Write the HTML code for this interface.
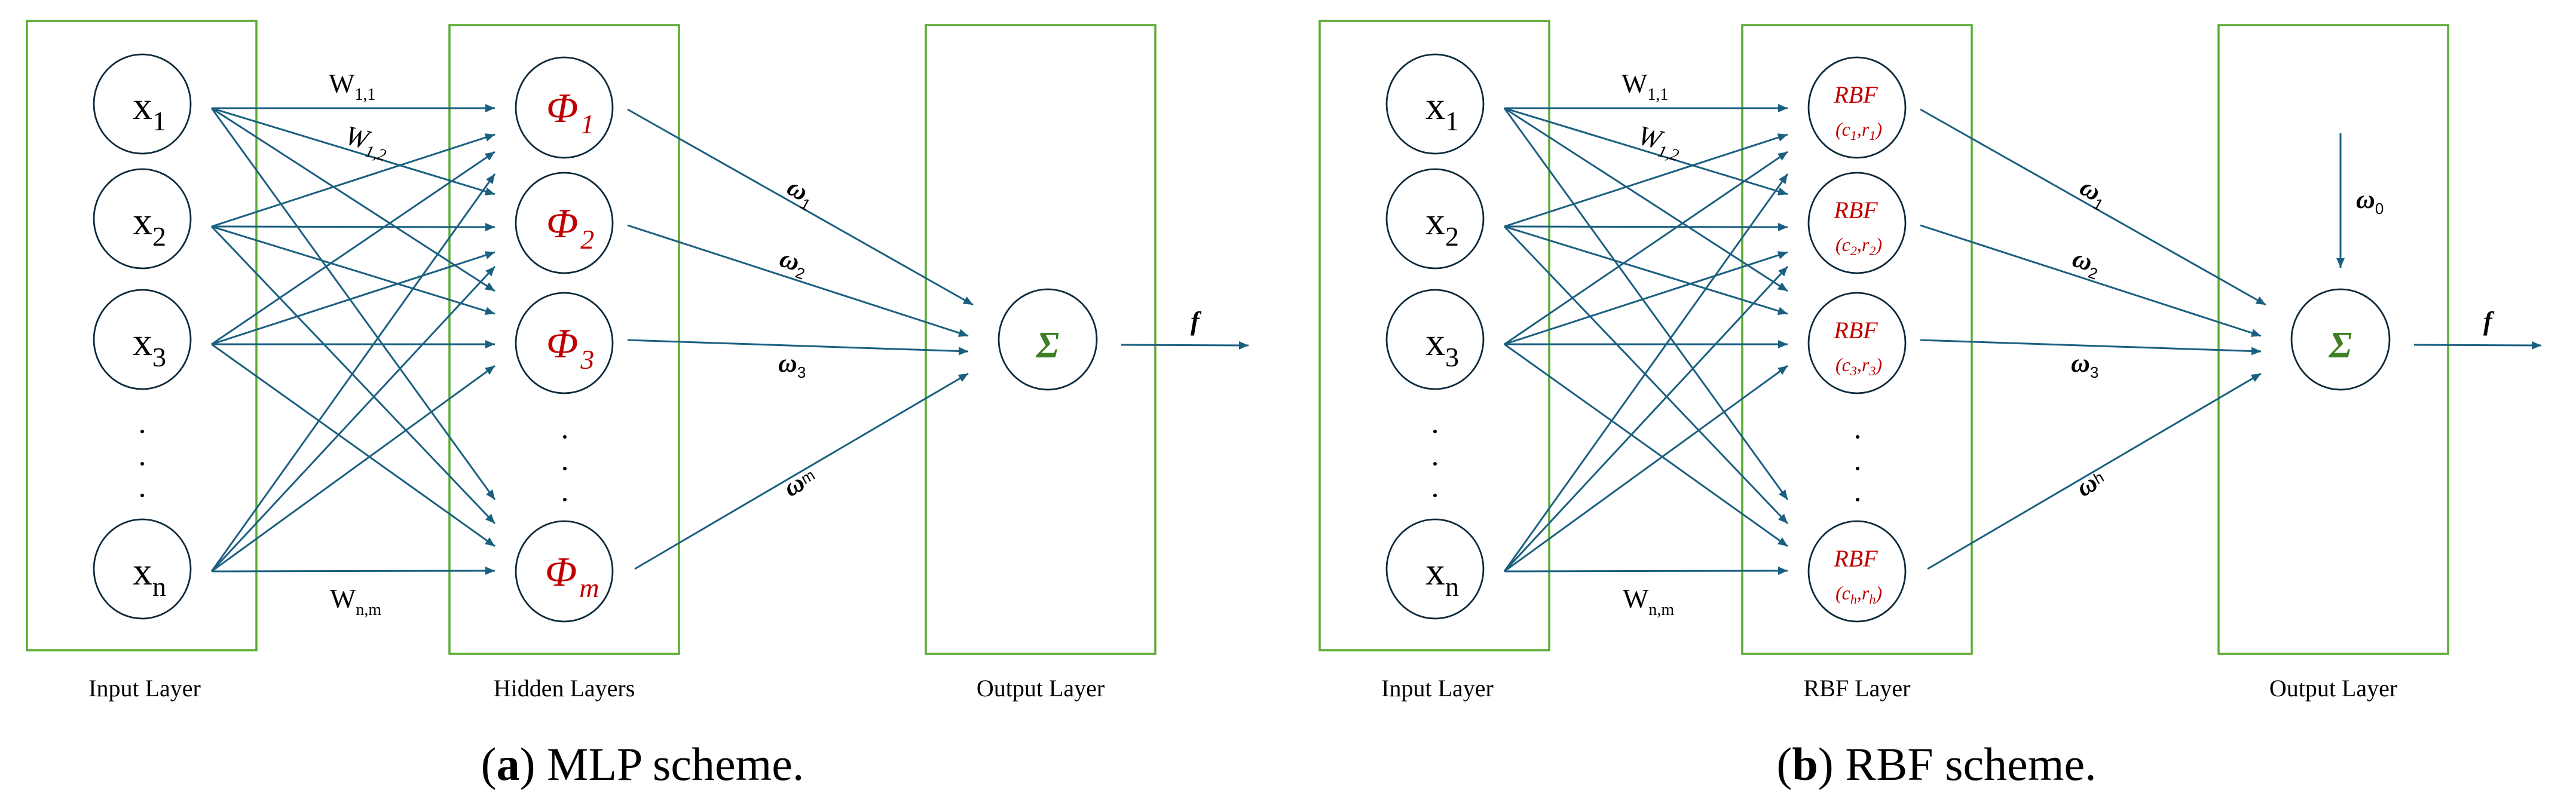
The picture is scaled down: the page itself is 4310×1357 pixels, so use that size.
<!DOCTYPE html>
<html><head><meta charset="utf-8"><style>
html,body{margin:0;padding:0;background:#fff;}
svg{display:block;}
text{font-family:"Liberation Serif",serif;}
</style></head><body>
<svg width="4310" height="1357" viewBox="0 0 4310 1357" xmlns="http://www.w3.org/2000/svg">
<defs>
<marker id="ah" markerUnits="userSpaceOnUse" markerWidth="20" markerHeight="16" refX="16" refY="7" orient="auto">
<path d="M0,0 L16,7 L0,14 z" fill="#1a5f80"/>
</marker>
<g id="net">
<g fill="none" stroke="#5aab32" stroke-width="3.5">
<rect x="45" y="35" width="384" height="1053"/>
<rect x="752" y="42" width="384" height="1052"/>
<rect x="1549" y="42" width="384" height="1052"/>
</g>
<g fill="none" stroke="#0e2a3b" stroke-width="2.8">
<ellipse cx="238" cy="174" rx="81" ry="83"/>
<ellipse cx="238" cy="366" rx="81" ry="83"/>
<ellipse cx="238" cy="568" rx="81" ry="83"/>
<ellipse cx="238" cy="952" rx="81" ry="83"/>
<ellipse cx="944" cy="180" rx="81" ry="84"/>
<ellipse cx="944" cy="373" rx="81" ry="84"/>
<ellipse cx="944" cy="574" rx="81" ry="84"/>
<ellipse cx="944" cy="956" rx="81" ry="84"/>
<ellipse cx="1753" cy="568" rx="82" ry="84"/>
</g>
<g fill="#000">
<circle cx="238" cy="722" r="3"/><circle cx="238" cy="776" r="3"/><circle cx="238" cy="829" r="3"/>
<circle cx="945" cy="731" r="3"/><circle cx="945" cy="784" r="3"/><circle cx="945" cy="836" r="3"/>
</g>
<g stroke="#1a5f80" stroke-width="3" fill="none" marker-end="url(#ah)">
<line x1="354" y1="181" x2="828" y2="181"/>
<line x1="354" y1="379" x2="828" y2="225"/>
<line x1="354" y1="576" x2="828" y2="254"/>
<line x1="354" y1="956" x2="828" y2="291"/>
<line x1="354" y1="181" x2="828" y2="325"/>
<line x1="354" y1="379" x2="828" y2="380"/>
<line x1="354" y1="576" x2="828" y2="422"/>
<line x1="354" y1="956" x2="828" y2="446"/>
<line x1="354" y1="181" x2="828" y2="487"/>
<line x1="354" y1="379" x2="828" y2="525"/>
<line x1="354" y1="576" x2="828" y2="576"/>
<line x1="354" y1="956" x2="828" y2="612"/>
<line x1="354" y1="181" x2="828" y2="836"/>
<line x1="354" y1="379" x2="828" y2="876"/>
<line x1="354" y1="576" x2="828" y2="914"/>
<line x1="354" y1="956" x2="828" y2="955"/>
<line x1="1050" y1="183" x2="1628" y2="510"/>
<line x1="1050" y1="377" x2="1620" y2="562"/>
<line x1="1050" y1="569" x2="1620" y2="588"/>
<line x1="1062" y1="952" x2="1620" y2="625"/>
<line x1="1876" y1="577" x2="2089" y2="578"/>
</g>
</g>
</defs>

<use href="#net"/>
<use href="#net" x="2163"/>
<line x1="3916" y1="223" x2="3916" y2="448" stroke="#1a5f80" stroke-width="3" marker-end="url(#ah)"/>

<!-- MLP labels -->
<g font-size="66">
<text x="222" y="199">x<tspan font-size="46" dy="19">1</tspan></text>
<text x="222" y="392">x<tspan font-size="46" dy="19">2</tspan></text>
<text x="222" y="594">x<tspan font-size="46" dy="19">3</tspan></text>
<text x="222" y="978">x<tspan font-size="46" dy="19">n</tspan></text>
<text x="2385" y="199">x<tspan font-size="46" dy="19">1</tspan></text>
<text x="2385" y="392">x<tspan font-size="46" dy="19">2</tspan></text>
<text x="2385" y="594">x<tspan font-size="46" dy="19">3</tspan></text>
<text x="2385" y="978">x<tspan font-size="46" dy="19">n</tspan></text>
</g>
<g fill="#c00000" font-style="italic" font-size="70">
<text x="914" y="204">Φ<tspan font-size="46" dx="4" dy="19">1</tspan></text>
<text x="914" y="397">Φ<tspan font-size="46" dx="4" dy="19">2</tspan></text>
<text x="914" y="598">Φ<tspan font-size="46" dx="4" dy="19">3</tspan></text>
<text x="912" y="980">Φ<tspan font-size="46" dx="4" dy="19">m</tspan></text>
</g>
<g fill="#c00000" font-style="italic" text-anchor="middle">
<text x="3105" y="172" font-size="40">RBF</text>
<text x="3110" y="227" font-size="32">(c<tspan font-size="22" dy="7">1</tspan><tspan dy="-7">,r</tspan><tspan font-size="22" dy="7">1</tspan><tspan dy="-7">)</tspan></text>
<text x="3105" y="365" font-size="40">RBF</text>
<text x="3110" y="420" font-size="32">(c<tspan font-size="22" dy="7">2</tspan><tspan dy="-7">,r</tspan><tspan font-size="22" dy="7">2</tspan><tspan dy="-7">)</tspan></text>
<text x="3105" y="566" font-size="40">RBF</text>
<text x="3110" y="621" font-size="32">(c<tspan font-size="22" dy="7">3</tspan><tspan dy="-7">,r</tspan><tspan font-size="22" dy="7">3</tspan><tspan dy="-7">)</tspan></text>
<text x="3105" y="948" font-size="40">RBF</text>
<text x="3110" y="1003" font-size="32">(c<tspan font-size="22" dy="7">h</tspan><tspan dy="-7">,r</tspan><tspan font-size="22" dy="7">h</tspan><tspan dy="-7">)</tspan></text>
</g>
<g fill="#3d7f24" font-weight="bold" font-style="italic" font-size="62" text-anchor="middle">
<text x="1753" y="598">Σ</text>
<text x="3916" y="598">Σ</text>
</g>
<g font-weight="bold" font-style="italic" font-size="44">
<text x="1992" y="552">f</text>
<text x="4155" y="552">f</text>
</g>

<!-- weight labels -->
<g font-size="46">
<text x="550" y="155">W<tspan font-size="28" dy="12">1,1</tspan></text>
<text x="552" y="1017">W<tspan font-size="28" dy="12">n,m</tspan></text>
<text x="2713" y="155">W<tspan font-size="28" dy="12">1,1</tspan></text>
<text x="2715" y="1017">W<tspan font-size="28" dy="12">n,m</tspan></text>
<text x="575" y="240" font-style="italic" transform="rotate(14 575 240)">W<tspan font-size="28" dy="12">1,2</tspan></text>
<text x="2738" y="240" font-style="italic" transform="rotate(14 2738 240)">W<tspan font-size="28" dy="12">1,2</tspan></text>
</g>
<g font-weight="bold" font-style="italic" font-size="44">
<text x="1314" y="322" transform="rotate(29 1314 322)">ω<tspan font-family="Liberation Sans,sans-serif" font-weight="normal" font-style="normal" font-size="26" dy="10">1</tspan></text>
<text x="1302" y="444" transform="rotate(18 1302 444)">ω<tspan font-family="Liberation Sans,sans-serif" font-weight="normal" font-style="normal" font-size="26" dy="10">2</tspan></text>
<text x="1302" y="622">ω<tspan font-family="Liberation Sans,sans-serif" font-weight="normal" font-style="normal" font-size="26" dy="10">3</tspan></text>
<text x="1322" y="832" transform="rotate(-30 1322 832)">ω<tspan font-family="Liberation Sans,sans-serif" font-weight="normal" font-style="normal" font-size="26" dy="-6">m</tspan></text>
<text x="3477" y="322" transform="rotate(29 3477 322)">ω<tspan font-family="Liberation Sans,sans-serif" font-weight="normal" font-style="normal" font-size="26" dy="10">1</tspan></text>
<text x="3465" y="444" transform="rotate(18 3465 444)">ω<tspan font-family="Liberation Sans,sans-serif" font-weight="normal" font-style="normal" font-size="26" dy="10">2</tspan></text>
<text x="3465" y="622">ω<tspan font-family="Liberation Sans,sans-serif" font-weight="normal" font-style="normal" font-size="26" dy="10">3</tspan></text>
<text x="3485" y="832" transform="rotate(-30 3485 832)">ω<tspan font-family="Liberation Sans,sans-serif" font-weight="normal" font-style="normal" font-size="26" dy="-6">h</tspan></text>
<text x="3942" y="348">ω<tspan font-family="Liberation Sans,sans-serif" font-weight="normal" font-style="normal" font-size="26" dy="10">0</tspan></text>
</g>

<!-- layer labels -->
<g font-size="40" text-anchor="middle">
<text x="242" y="1165">Input Layer</text>
<text x="944" y="1165">Hidden Layers</text>
<text x="1741" y="1165">Output Layer</text>
<text x="2405" y="1165">Input Layer</text>
<text x="3107" y="1165">RBF Layer</text>
<text x="3904" y="1165">Output Layer</text>
</g>
<g font-size="78" text-anchor="middle">
<text x="1075" y="1305">(<tspan font-weight="bold">a</tspan>) MLP scheme.</text>
<text x="3240" y="1305">(<tspan font-weight="bold">b</tspan>) RBF scheme.</text>
</g>
</svg>
</body></html>
